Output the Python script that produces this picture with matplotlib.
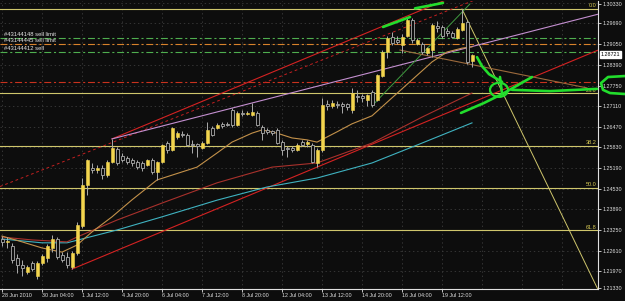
import numpy as np
import matplotlib
matplotlib.use('Agg')
import matplotlib.pyplot as plt
from matplotlib.patches import Ellipse

plt.rcParams['font.family'] = ['Liberation Sans', 'DejaVu Sans']
plt.rcParams['lines.scale_dashes'] = False

# H4 candles, one entry per bar
opens = [1.2297, 1.2288, 1.2275, 1.2238, 1.2216, 1.2194, 1.2222, 1.2182, 1.2222, 1.2238,
         1.2269, 1.2297, 1.2247, 1.2241, 1.2210, 1.2253, 1.2337, 1.2465, 1.2518, 1.2512,
         1.2518, 1.2497, 1.2537, 1.2578, 1.2556, 1.2550, 1.2543, 1.2537, 1.2534, 1.2528,
         1.2543, 1.2506, 1.2537, 1.2596, 1.2574, 1.2615, 1.2624, 1.2621, 1.2593, 1.2593,
         1.2581, 1.2596, 1.2643, 1.2643, 1.2656, 1.2656, 1.2699, 1.2652, 1.2690, 1.2687,
         1.2684, 1.2690, 1.2646, 1.2637, 1.2634, 1.2637, 1.2599, 1.2581, 1.2581, 1.2574,
         1.2599, 1.2593, 1.2590, 1.2534, 1.2574, 1.2718, 1.2712, 1.2718, 1.2718, 1.2718,
         1.2699, 1.2743, 1.2743, 1.2730, 1.2755, 1.2730, 1.2805, 1.2880, 1.2927, 1.2918,
         1.2902, 1.2930, 1.2980, 1.2905, 1.2905, 1.2877, 1.2886, 1.2961, 1.2958, 1.2946,
         1.2939, 1.2924, 1.2949, 1.2974, 1.2852]
highs = [1.2306, 1.2303, 1.2285, 1.2250, 1.2231, 1.2216, 1.2228, 1.2228, 1.2250, 1.2281,
         1.2309, 1.2303, 1.2256, 1.2256, 1.2260, 1.2350, 1.2487, 1.2546, 1.2534, 1.2528,
         1.2528, 1.2543, 1.2609, 1.2584, 1.2565, 1.2556, 1.2550, 1.2543, 1.2540, 1.2546,
         1.2550, 1.2540, 1.2593, 1.2603, 1.2646, 1.2634, 1.2634, 1.2628, 1.2606, 1.2596,
         1.2603, 1.2662, 1.2649, 1.2659, 1.2662, 1.2662, 1.2705, 1.2696, 1.2699, 1.2696,
         1.2721, 1.2696, 1.2652, 1.2643, 1.2637, 1.2643, 1.2606, 1.2587, 1.2587, 1.2596,
         1.2606, 1.2606, 1.2596, 1.2581, 1.2737, 1.2730, 1.2730, 1.2727, 1.2724, 1.2721,
         1.2768, 1.2762, 1.2749, 1.2749, 1.2762, 1.2811, 1.2886, 1.2930, 1.2942, 1.2930,
         1.2936, 1.2989, 1.2986, 1.2924, 1.2911, 1.2896, 1.2970, 1.2977, 1.2964, 1.2955,
         1.2946, 1.2958, 1.3014, 1.2980, 1.2874]
lows = [1.2275, 1.2269, 1.2222, 1.2191, 1.2182, 1.2188, 1.2197, 1.2172, 1.2216, 1.2225,
        1.2256, 1.2235, 1.2225, 1.2206, 1.2203, 1.2247, 1.2331, 1.2434, 1.2503, 1.2503,
        1.2484, 1.2490, 1.2534, 1.2528, 1.2537, 1.2531, 1.2525, 1.2515, 1.2509, 1.2525,
        1.2500, 1.2481, 1.2534, 1.2565, 1.2571, 1.2609, 1.2615, 1.2587, 1.2565, 1.2553,
        1.2578, 1.2593, 1.2618, 1.2640, 1.2643, 1.2649, 1.2646, 1.2649, 1.2681, 1.2684,
        1.2681, 1.2649, 1.2606, 1.2624, 1.2621, 1.2593, 1.2559, 1.2553, 1.2568, 1.2571,
        1.2587, 1.2584, 1.2534, 1.2521, 1.2568, 1.2699, 1.2705, 1.2705, 1.2690, 1.2699,
        1.2690, 1.2724, 1.2724, 1.2712, 1.2709, 1.2727, 1.2802, 1.2861, 1.2902, 1.2905,
        1.2877, 1.2927, 1.2908, 1.2902, 1.2874, 1.2871, 1.2864, 1.2942, 1.2924, 1.2930,
        1.2924, 1.2921, 1.2946, 1.2843, 1.2833]
closes = [1.2288, 1.2291, 1.2231, 1.2216, 1.2206, 1.2210, 1.2203, 1.2222, 1.2244, 1.2275,
          1.2297, 1.2241, 1.2231, 1.2216, 1.2253, 1.2341, 1.2465, 1.2543, 1.2512, 1.2518,
          1.2497, 1.2537, 1.2581, 1.2534, 1.2543, 1.2537, 1.2534, 1.2521, 1.2518, 1.2543,
          1.2506, 1.2537, 1.2590, 1.2574, 1.2643, 1.2628, 1.2621, 1.2590, 1.2590, 1.2587,
          1.2596, 1.2637, 1.2621, 1.2652, 1.2649, 1.2652, 1.2652, 1.2690, 1.2687, 1.2690,
          1.2693, 1.2652, 1.2628, 1.2631, 1.2628, 1.2596, 1.2574, 1.2578, 1.2574, 1.2590,
          1.2590, 1.2599, 1.2537, 1.2574, 1.2715, 1.2712, 1.2721, 1.2715, 1.2712, 1.2709,
          1.2752, 1.2740, 1.2737, 1.2746, 1.2715, 1.2808, 1.2880, 1.2924, 1.2908, 1.2911,
          1.2927, 1.2980, 1.2918, 1.2918, 1.2880, 1.2892, 1.2964, 1.2955, 1.2930, 1.2939,
          1.2927, 1.2952, 1.2970, 1.2849, 1.2872]

# moving averages, sampled at bar numbers
ma_fast_bars = [0, 4, 8, 12, 15, 18, 22, 26, 31, 36, 39, 43, 46, 50, 52, 55, 58, 61, 63, 67, 70, 74, 78, 82, 86, 89, 92, 94]
ma_fast = [1.2306, 1.2288, 1.2269, 1.2256, 1.2278, 1.2319, 1.2366, 1.2419, 1.2481, 1.2506, 1.2521, 1.2565, 1.2599, 1.2627,
           1.2637, 1.2627, 1.2612, 1.2606, 1.2599, 1.2631, 1.2656, 1.2681, 1.2737, 1.2793, 1.2849, 1.2880, 1.2892, 1.2896]
ma_mid_bars = [0, 6, 13, 15, 23, 32, 43, 54, 63, 74, 84, 94]
ma_mid = [1.2303, 1.2294, 1.2288, 1.2303, 1.2356, 1.2409, 1.2472, 1.2521, 1.2534, 1.2596, 1.2677, 1.2752]
ma_slow_bars = [0, 8, 13, 23, 32, 43, 53, 63, 74, 84, 94]
ma_slow = [1.2297, 1.2285, 1.2285, 1.2325, 1.2366, 1.2418, 1.2459, 1.2487, 1.2534, 1.2596, 1.2659]

# fibonacci retracement
fib_high, fib_low = 1.3014, 1.1898
fib_bars = [92, 126.7]
fib_levels = [0.0, 23.6, 38.2, 50.0, 61.8]

# pending / open orders
order_prices = [1.2924, 1.2905, 1.2880, 1.2787]
order_names = ['#43144148 sell limit', '#43144445 sell limit', '#43144412 sell', '']
order_colors = ['#4fae4f', '#d9822b', '#4fae4f', '#c8321e']

x_labels = ['28 Jun 2010', '30 Jun 04:00', '1 Jul 12:00', '4 Jul 20:00', '6 Jul 04:00', '7 Jul 12:00',
            '8 Jul 20:00', '12 Jul 04:00', '13 Jul 12:00', '14 Jul 20:00', '16 Jul 04:00', '19 Jul 12:00']
y_labels = [1.30330, 1.29690, 1.29050, 1.28390, 1.27750, 1.27110, 1.26470, 1.25830,
            1.25190, 1.24530, 1.23890, 1.23250, 1.22610, 1.21970, 1.21330]
last_price = 1.28721

bg = '#0d0d0d'
fig = plt.figure(figsize=(6.25, 3.01), dpi=100, facecolor=bg)
ax = fig.add_axes([0, 12 / 301, 598 / 625, 288 / 301])
ax.set_facecolor(bg)
x0, x1 = -0.4, 119.2
y0, y1 = 1.2141, 1.3039
ax.set_xlim(x0, x1)
ax.set_ylim(y0, y1)

# grid
for b in range(0, 120, 8):
    ax.axvline(b, color='#3b3b3b', lw=0.6, ls=(0, (1, 2)), zorder=0)
for p in y_labels:
    ax.axhline(p, color='#3b3b3b', lw=0.6, ls=(0, (1, 2)), zorder=0)

# fibo
fib_col = '#cfc66c'
for lv in fib_levels:
    p = fib_high - lv / 100 * (fib_high - fib_low)
    ax.axhline(p, color=fib_col, lw=0.8, zorder=2)
    ax.text(x1 - 0.3, p + 0.0002, '%.1f' % lv, color='#d8cb55', fontsize=4, ha='right', va='bottom', zorder=6)
ax.plot(fib_bars, [fib_high, fib_low], color=fib_col, lw=0.7, zorder=2)

# orders
for p, name, col in zip(order_prices, order_names, order_colors):
    ax.axhline(p, color=col, lw=0.8, ls=(0, (5, 2, 1.5, 2)), zorder=2)
    if name:
        ax.text(0.5, p + 0.0003, name, color='#e6e6e6', fontsize=4.2, va='bottom', zorder=6)

# trend lines
slope = (lows[63] - lows[14]) / (63 - 14)
ax.plot([14, x1], [lows[14], lows[14] + slope * (x1 - 14)], color='#d42222', lw=0.8, zorder=3)
ax.plot([22, x1], [highs[22], highs[22] + slope * (x1 - 22)], color='#d42222', lw=0.8, zorder=3)
dslope = (1.2855 - 1.2534) / (64 - 11.6)
ax.plot([x0, x1], [1.2534 + dslope * (x0 - 11.6), 1.2534 + dslope * (x1 - 11.6)],
        color='#c42020', lw=0.7, ls=(0, (2, 2)), zorder=3)
pslope = (highs[50] - highs[22]) / (50 - 22)
ax.plot([22, x1], [highs[22], highs[22] + pslope * (x1 - 22)], color='#c48fd0', lw=0.8, zorder=3)
ax.plot([74, 93.6], [1.2712, 1.3030], color='#3f9a3f', lw=0.7, zorder=3)
ax.plot([79.6, 117], [1.2886, 1.2768], color='#9c6a3c', lw=0.8, zorder=3)

# moving averages
ax.plot(ma_slow_bars, ma_slow, color='#3fb2c0', lw=0.8, zorder=3)
ax.plot(ma_mid_bars, ma_mid, color='#a8312c', lw=0.8, zorder=3)
ax.plot(ma_fast_bars, ma_fast, color='#c3914a', lw=0.8, zorder=3)

# candles
xb = np.arange(len(opens))
o, h, l, c = map(np.array, (opens, highs, lows, closes))
up = c >= o
ax.vlines(xb, l, h, color='#ababab', lw=0.7, zorder=4)
lo = np.minimum(o, c)
ht = np.maximum(np.abs(c - o), 0.00008)
ax.bar(xb[up], ht[up], 0.6, lo[up], color='#f3d54e', edgecolor='#f3d54e', lw=0.4, zorder=5)
ax.bar(xb[~up], ht[~up], 0.6, lo[~up], color=bg, edgecolor='#ababab', lw=0.6, zorder=5)

# hand drawn marks
g = dict(color='#22dd2c', lw=1.9, solid_capstyle='round', solid_joinstyle='round', zorder=8, clip_on=False)
ax.plot([76.2, 81.6], [1.2958, 1.2989], **g)
ax.plot([82.6, 88.2], [1.3016, 1.3033], **g)
ax.plot([95, 96, 97.4, 99, 100], [1.2864, 1.2836, 1.2811, 1.2796, 1.2787], **g)
ax.plot([99.6, 100], [1.2802, 1.2752], **g)
ax.plot([91.8, 96.4, 100.4, 106], [1.2690, 1.2721, 1.2752, 1.2802], **g)
ax.plot([102, 109.6, 119], [1.2762, 1.2758, 1.2765], **g)
ax.plot([124.6, 121.2, 119.8, 120.2, 121.6, 124.6], [1.2805, 1.2802, 1.2783, 1.2762, 1.2752, 1.2749], **g)
ax.add_patch(Ellipse((99.4, 1.2762), 3.6, 0.0044, fill=False, ec='#22dd2c', lw=1.6, zorder=8))

# axes
for s in ['top', 'left']:
    ax.spines[s].set_visible(False)
for s in ['right', 'bottom']:
    ax.spines[s].set_color('#e0e0e0')
    ax.spines[s].set_linewidth(0.8)
ax.yaxis.tick_right()
ypos = np.clip(y_labels, y0 + 0.0003, y1 - 0.0008)
ax.set_yticks(ypos)
ax.set_yticklabels(['%.5f' % v for v in y_labels])
ax.set_xticks(range(0, 8 * len(x_labels), 8))
ax.set_xticklabels(x_labels)
for t in ax.get_xticklabels():
    t.set_ha('left')
ax.tick_params(colors='#e0e0e0', labelsize=3.9, length=2.2, width=0.6, pad=1)
ax.text(1.004, last_price, '%.5f' % last_price, transform=ax.get_yaxis_transform(), fontsize=3.9,
        color='black', va='center', ha='left', zorder=9,
        bbox=dict(boxstyle='square,pad=0.15', fc='white', ec='white'))

fig.savefig('out.png', dpi=100, facecolor=bg)
